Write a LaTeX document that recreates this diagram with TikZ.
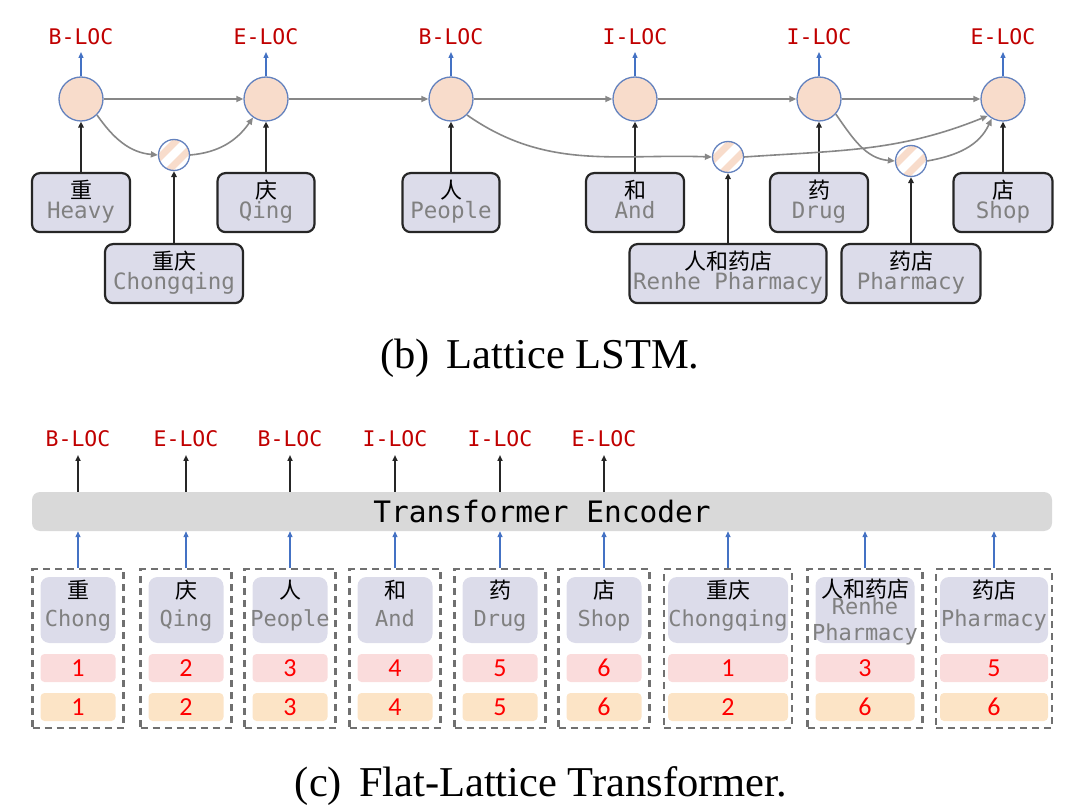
\documentclass[tikz,border=0pt]{standalone}
\usepackage{fontspec}
\setmainfont{Liberation Serif}
\newfontfamily\cjkf{Noto Sans CJK SC}
\newfontfamily\monof{DejaVu Sans Mono}
\newfontfamily\numf{Carlito}
\usetikzlibrary{arrows.meta,calc}
\definecolor{peach}{RGB}{248,220,203}
\definecolor{cborder}{RGB}{100,130,190}
\definecolor{bluearr}{RGB}{68,114,196}
\definecolor{grayarr}{RGB}{135,135,135}
\definecolor{lav}{RGB}{220,220,234}
\definecolor{labred}{RGB}{192,0,0}
\definecolor{numred}{RGB}{255,0,0}
\definecolor{pinkb}{RGB}{250,220,220}
\definecolor{orangeb}{RGB}{252,228,198}
\definecolor{dashg}{RGB}{112,112,112}
\definecolor{encg}{RGB}{217,217,217}
\definecolor{engg}{RGB}{128,128,128}
\definecolor{darkln}{RGB}{38,38,38}
\tikzset{
 lbl/.style={font=\monof\fontsize{21.5}{25}\selectfont, text=labred, inner sep=0pt, anchor=base},
 bigc/.style={circle, minimum size=44pt, inner sep=0pt, fill=peach, draw=cborder, line width=1.3pt},
 smallc/.style={circle, minimum size=31pt, inner sep=0pt, fill=white, draw=cborder, line width=1.3pt,
   path picture={
     \draw[peach, line width=7pt] ($(path picture bounding box.center)+(-26,-14)$) -- ($(path picture bounding box.center)+(14,26)$);
     \draw[peach, line width=7pt] ($(path picture bounding box.center)+(-15,-25)$) -- ($(path picture bounding box.center)+(25,15)$);
   }},
 wbox/.style={rectangle, rounded corners=8pt, fill=lav, draw=darkln, line width=2.2pt, inner sep=0pt},
 cjkt/.style={font=\cjkf\fontsize{22}{26}\selectfont, text=black, inner sep=0pt},
 engt/.style={font=\monof\fontsize{22.5}{26}\selectfont, text=engg, inner sep=0pt, anchor=base},
 engtc/.style={font=\monof\fontsize{22}{26}\selectfont, text=engg, inner sep=0pt, anchor=base},
 garr/.style={draw=grayarr, line width=1.6pt, -{Triangle[length=7pt,width=6pt]}},
 karr/.style={draw=darkln, line width=2pt, -{Triangle[length=6pt,width=5.5pt]}},
 karrc/.style={draw=darkln, line width=1.5pt, -{Triangle[length=6pt,width=5pt]}},
 barr/.style={draw=bluearr, line width=1.3pt, -{Triangle[length=6pt,width=5pt]}},
 dbox/.style={rectangle, draw=dashg, line width=2.2pt, dash pattern=on 7pt off 5pt, inner sep=0pt},
 ibox/.style={rectangle, rounded corners=9pt, fill=lav, inner sep=0pt},
 nbox/.style={rectangle, rounded corners=4pt, inner sep=0pt, font=\numf\fontsize{26}{30}\selectfont, text=numred},
 capt/.style={font=\fontsize{42.5}{48}\selectfont, anchor=base, inner sep=0pt},
}
\newcommand\wbx[7]{%
 \node[wbox, minimum width=#4pt, minimum height=#5pt, anchor=north] (#1) at (#2,-#3) {};
 \node[cjkt] (#1c) at (#2,{-(#3+18)}) {#6};
 \node[engt] (#1e) at (#2,{-(#3+47)}) {#7};
}
\begin{document}
\begin{tikzpicture}[x=1pt,y=1pt]
\useasboundingbox (0,0) rectangle (1080,-810);
% ---------- (b) Lattice LSTM ----------
\foreach \n/\x in {1/81,2/266,3/451,4/635,5/819,6/1003}{
  \node[bigc] (c\n) at (\x,-99) {};
}
\foreach \n/\t in {1/B-LOC,2/E-LOC,3/B-LOC,4/I-LOC,5/I-LOC,6/E-LOC}{
  \node[lbl] (L\n) at (c\n.north |- 0,-45) {\t};
  \draw[barr] (c\n.north) -- ([yshift=-7pt]L\n.base);
}
\node[smallc] (s1) at (174,-155) {};
\node[smallc] (s2) at (728,-157) {};
\node[smallc] (s3) at (911,-161) {};
% word boxes
\wbx{w1}{81}{172}{98}{59}{重}{Heavy}
\wbx{w2}{266}{172}{97}{59}{庆}{Qing}
\wbx{w3}{451}{172}{97}{59}{人}{People}
\wbx{w4}{635}{172}{98}{59}{和}{And}
\wbx{w5}{819}{172}{98}{59}{药}{Drug}
\wbx{w6}{1003}{172}{99}{59}{店}{Shop}
\wbx{l1}{174}{243}{138}{59}{重庆}{Chongqing}
\wbx{l2}{728}{243}{197}{59}{人和药店}{Renhe Pharmacy}
\wbx{l3}{911}{243}{139}{59}{药店}{Pharmacy}
% vertical black arrows
\foreach \n in {1,...,6}{ \draw[karr] (w\n.north) -- (c\n.south); }
\draw[karr] (l1.north) -- (s1.south);
\draw[karr] (l2.north) -- (s2.south);
\draw[karr] (l3.north) -- (s3.south);
% gray arrows
\foreach \a/\b in {1/2,2/3,3/4,4/5,5/6}{ \draw[garr] (c\a) -- (c\b); }
\draw[garr] (c1.-45) to[out=-55,in=175] (s1.west);
\draw[garr] (s1.east) to[out=5,in=-125] (c2.-125);
\draw[garr] (c3.-45) to[out=-35,in=178] (s2.west);
\draw[garr] (s2.east) to[out=4,in=-158] (c6.-132);
\draw[garr] (c5.-42) to[out=-55,in=175] (s3.west);
\draw[garr] (s3.east) to[out=10,in=-115] (c6.-120);
\node[capt] (capb) at (540,-369) {(b)\hspace{0.4em}Lattice LSTM.};
% ---------- (c) Flat-Lattice Transformer ----------
\node[rectangle, rounded corners=8pt, fill=encg, minimum width=1020pt, minimum height=39pt, inner sep=0pt,
  font=\monof\fontsize{29.5}{33}\selectfont] (enc) at (542,-511.5) {Transformer Encoder};
\foreach \n/\cx/\dw/\iw/\cj/\en/\pa/\pb in {1/78/91/75/重/Chong/1/1, 2/186/91/75/庆/Qing/2/2,
   3/290/91/75/人/People/3/3, 4/395/91/75/和/And/4/4, 5/500/91/75/药/Drug/5/5,
   6/604/91/75/店/Shop/6/6, 7/728/128/120/重庆/Chongqing/1/2, 9/994/116/108/药店/Pharmacy/5/6}{
  \node[dbox, minimum width=\dw pt, minimum height=159pt] (d\n) at (\cx,-648.5) {};
  \node[ibox, minimum width=\iw pt, minimum height=66pt] (wb\n) at (\cx,-610) {};
  \node[cjkt] (wc\n) at (\cx,-590) {\cj};
  \node[engtc] (we\n) at (\cx,-626) {\en};
  \node[nbox, fill=pinkb, minimum width=\iw pt, minimum height=28pt] (p\n) at (\cx,-668) {\pa};
  \node[nbox, fill=orangeb, minimum width=\iw pt, minimum height=28pt] (o\n) at (\cx,-707) {\pb};
}
\node[dbox, minimum width=115pt, minimum height=159pt] (d8) at (865,-648.5) {};
\node[ibox, minimum width=99pt, minimum height=66pt] (wb8) at (865,-610) {};
\node[engtc] (we8a) at (865,-614) {Renhe};
\node[engtc] (we8b) at (865,-640) {Pharmacy};
\node[cjkt] (wc8) at (865,-589) {人和药店};
\node[nbox, fill=pinkb, minimum width=99pt, minimum height=28pt] (p8) at (865,-668) {3};
\node[nbox, fill=orangeb, minimum width=99pt, minimum height=28pt] (o8) at (865,-707) {6};
\foreach \n in {1,...,9}{ \draw[barr] (d\n.north) -- (d\n.north |- enc.south); }
\foreach \n/\t in {1/B-LOC,2/E-LOC,3/B-LOC,4/I-LOC,5/I-LOC,6/E-LOC}{
  \node[lbl] (T\n) at (d\n.north |- 0,-447) {\t};
  \draw[karrc] (enc.north -| T\n) -- ([yshift=-8pt]T\n.base);
}
\node[capt] (capc) at (541,-796) {(c)\hspace{0.4em}Flat-Lattice Transformer.};
\end{tikzpicture}
\end{document}
